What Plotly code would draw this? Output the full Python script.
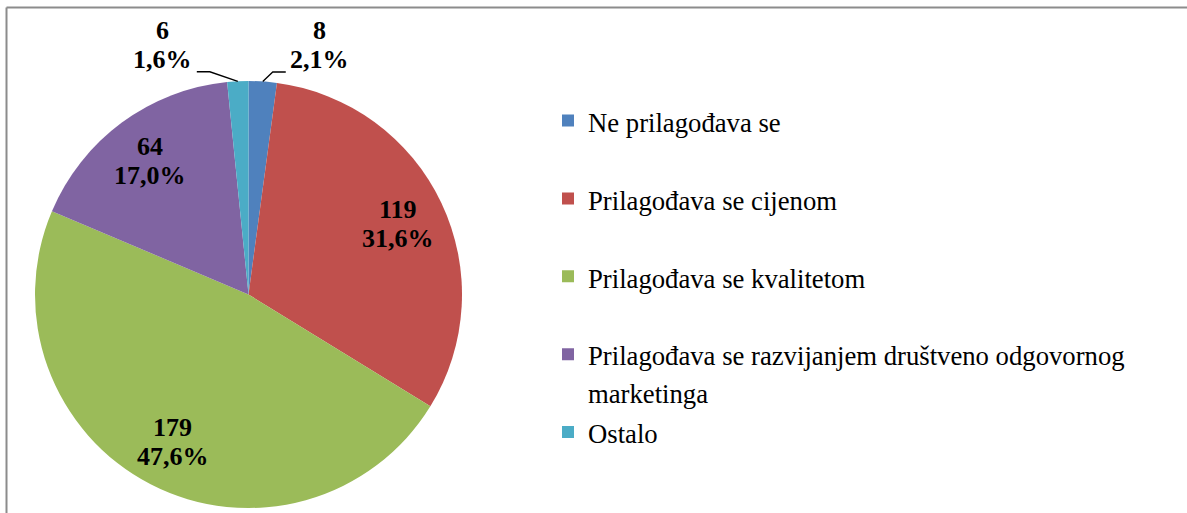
import math
import textwrap
import plotly.graph_objects as go

# ---------------- data ----------------
categories = [
    "Ne prilagođava se",
    "Prilagođava se cijenom",
    "Prilagođava se kvalitetom",
    "Prilagođava se razvijanjem društveno odgovornog marketinga",
    "Ostalo",
]
values = [8, 119, 179, 64, 6]
colors = ["#4F81BD", "#C0504D", "#9BBB59", "#8064A2", "#4BACC6"]

# ---------------- layout constants (style) ----------------
W, H = 1187, 513
CX, CY, R = 248.5, 294.5, 213.5          # pie centre / radius in pixels
FONT = "Times New Roman, Liberation Serif, DejaVu Serif, serif"
LEG_FONT_PX = 26.7                       # visible legend text size
LEG_LINE_PX = 28.8                       # legend font size driving line spacing
LABEL_SIZE = 26
LABEL_HALF_GAP = 14.5                    # half the distance between the two label lines
INSIDE_R = 0.775                          # label radius fraction for inside labels
SMALL_SHARE = 0.05


def px_x(x):
    return x / W


def px_y(y):
    return 1 - y / H


total = sum(values)


def pct(v):
    return f"{v / total * 100:.1f}".replace(".", ",") + "%"


def legend_text(c):
    lines = textwrap.wrap(c, 48)
    if len(lines) < 2:
        lines.append(" ")
    return "<br>".join(f"<span style='font-size:{LEG_FONT_PX}px'>{ln}</span>" for ln in lines)


fig = go.Figure(
    go.Pie(
        labels=[legend_text(c) for c in categories],
        values=values,
        sort=False,
        direction="clockwise",
        rotation=0,
        marker=dict(colors=colors, line=dict(width=0)),
        textinfo="none",
        hovertext=categories,
        hoverinfo="text+value+percent",
        domain=dict(
            x=[px_x(CX - R), px_x(CX + R)],
            y=[px_y(CY + R), px_y(CY - R)],
        ),
    )
)

annotations = []
shapes = []
label_font = dict(family=FONT, size=LABEL_SIZE, color="black", weight="bold")


def add_label(x, y, v, xanchor):
    for txt, shift in ((str(v), LABEL_HALF_GAP), (pct(v), -LABEL_HALF_GAP)):
        annotations.append(dict(
            x=x, y=y, xref="paper", yref="paper", text=txt, showarrow=False,
            xanchor=xanchor, yanchor="middle", align="center", yshift=shift,
            font=label_font,
        ))


cum = 0
for v in values:
    mid = (cum + v / 2) / total
    cum += v
    th = 2 * math.pi * mid
    s, c = math.sin(th), math.cos(th)
    if v / total > SMALL_SHARE:
        add_label(px_x(CX + INSIDE_R * R * s), px_y(CY - INSIDE_R * R * c), v, "center")
    else:
        side = 1 if s >= 0 else -1
        elbow_dx = 10 if side > 0 else 28
        px0, py0 = CX + R * s, CY - R * c
        ex, ey = px0 + side * elbow_dx, py0 - 9.5
        fx, fy = ex + side * 13, ey
        shapes.append(dict(
            type="path", xref="paper", yref="paper",
            path=f"M{px_x(px0)},{px_y(py0)} L{px_x(ex)},{px_y(ey)} L{px_x(fx)},{px_y(fy)}",
            line=dict(color="black", width=1.3),
        ))
        # centre of the label block, placed beside the leader end
        half_w = 30
        add_label(px_x(fx + side * (4 + half_w)), px_y(fy - 27), v, "center")

# chart frame (top and left edges visible)
shapes.append(dict(type="line", xref="paper", yref="paper",
                   x0=px_x(6.5), x1=1.01, y0=px_y(7.5), y1=px_y(7.5),
                   line=dict(color="#8c8c8c", width=2)))
shapes.append(dict(type="line", xref="paper", yref="paper",
                   x0=px_x(6.5), x1=px_x(6.5), y0=px_y(7.5), y1=-0.01,
                   line=dict(color="#8c8c8c", width=2)))

fig.update_layout(
    width=W, height=H,
    margin=dict(l=0, r=0, t=0, b=0),
    paper_bgcolor="white", plot_bgcolor="white",
    showlegend=True,
    legend=dict(
        x=px_x(548), y=px_y(95.3), xanchor="left", yanchor="top",
        valign="top", bgcolor="rgba(0,0,0,0)",
        font=dict(family=FONT, size=LEG_LINE_PX, color="black"),
    ),
    annotations=annotations,
    shapes=shapes,
)

fig.write_html(
    "out.html",
    config={"displayModeBar": False},
    post_script="document.body.style.margin='0';",
)
